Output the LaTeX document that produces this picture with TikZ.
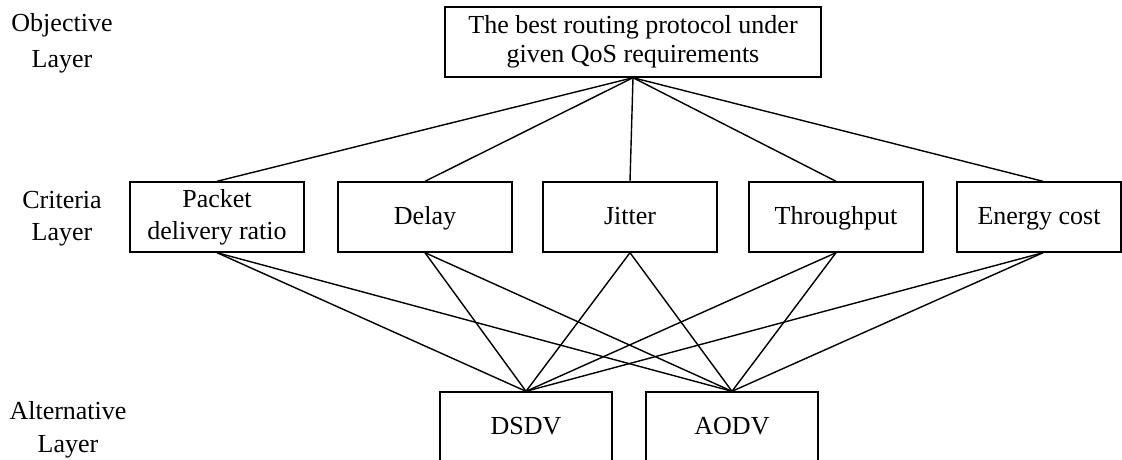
\documentclass[tikz,border=0pt]{standalone}
\usepackage{fontspec}
\setmainfont{Liberation Serif}
\begin{document}
\begin{tikzpicture}[x=1pt,y=-1pt,
  box/.style={draw, line width=1.4pt, minimum height=70pt, inner sep=0pt,
    align=center, font=\fontsize{26}{29}\selectfont},
  oneline/.style={text height=18pt, text depth=4pt},
  layerlabel/.style={align=center, inner sep=0pt},
  link/.style={line width=1.4pt}]
\useasboundingbox (0,0) rectangle (1122,459);
\clip (0,0) rectangle (1122,459);

% layer captions
\node[layerlabel, font=\fontsize{26}{36}\selectfont] (objlab) at (62,43) {Objective\\Layer};
\node[layerlabel, font=\fontsize{26}{32}\selectfont] (crilab) at (62,219) {Criteria\\Layer};
\node[layerlabel, font=\fontsize{26}{33}\selectfont] (altlab) at (68,430) {Alternative\\Layer};

% objective
\node[box, minimum width=376pt] (goal) at (633,42) {The best routing protocol under\\given QoS requirements};

% criteria
\node[box, minimum width=174pt, font=\fontsize{26}{32}\selectfont] (pdr) at (217,217) {Packet\\delivery ratio};
\node[box, oneline, minimum width=174pt] (delay) at (425,217) {Delay};
\node[box, oneline, minimum width=174pt] (jitter) at (630,217) {Jitter};
\node[box, oneline, minimum width=174pt] (thr) at (836,217) {Throughput};
\node[box, oneline, minimum width=164pt] (energy) at (1039,217) {Energy cost};

% alternatives
\node[box, oneline, minimum width=172pt] (dsdv) at (526,427) {DSDV};
\node[box, oneline, minimum width=172pt] (aodv) at (732,427) {AODV};

% objective to criteria
\foreach \c in {pdr,delay,jitter,thr}
  \draw[link] (goal.south) -- (\c.north);
\draw[link] (goal.south) -- ([xshift=4pt]energy.north);

% criteria to alternatives
\foreach \c in {pdr,delay,jitter,thr} {
  \draw[link] (\c.south) -- (dsdv.north);
  \draw[link] (\c.south) -- (aodv.north);
}
\draw[link] ([xshift=4pt]energy.south) -- (dsdv.north);
\draw[link] ([xshift=4pt]energy.south) -- (aodv.north);
\end{tikzpicture}
\end{document}
